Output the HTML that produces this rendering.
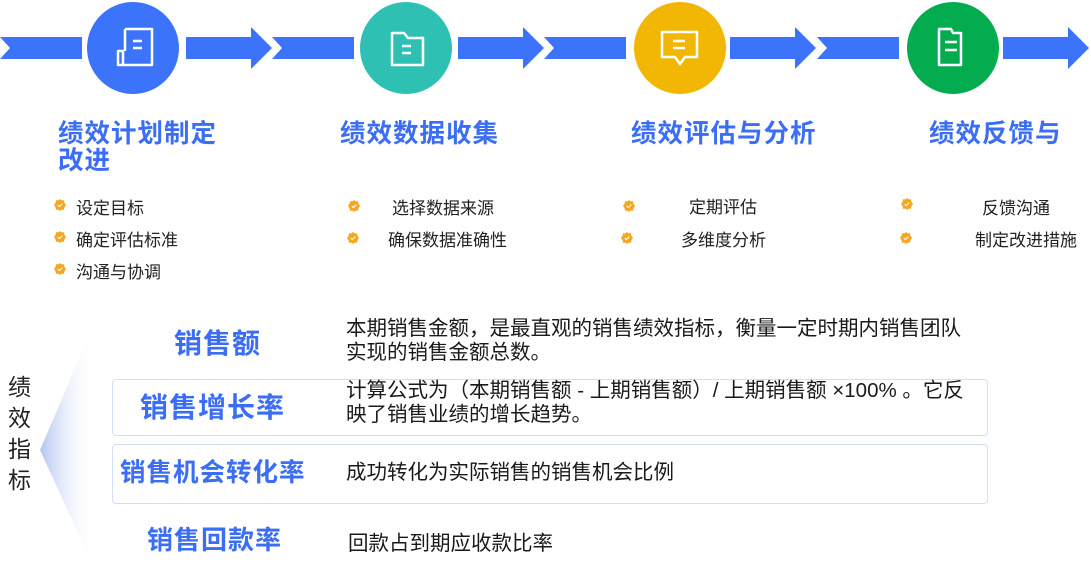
<!DOCTYPE html>
<html><head><meta charset="utf-8"><style>
html,body{margin:0;padding:0;background:#fff;}
body{width:1091px;height:583px;position:relative;overflow:hidden;font-family:"Liberation Sans","Noto Sans CJK SC",sans-serif;}
.a{position:absolute;white-space:nowrap;}
.t{color:#3b6ef5;font-size:25.5px;font-weight:bold;letter-spacing:1px;line-height:27px;}
.b{color:#222;font-size:17px;}
.m{color:#3b6ef5;font-weight:bold;letter-spacing:1px;}
.d{color:#1a1a1a;font-size:20.5px;line-height:24px;}
.box{position:absolute;left:112px;width:874px;border:1.5px solid #d3def8;border-radius:4px;}
</style></head><body>
<svg class="a" style="left:0;top:0" width="1091" height="300">
<defs>
<g id="seg"><polygon points="0,37 82,37 82,59 0,59 10,48" fill="#3b74fb"/><polygon points="186,37 251,37 251,27 272,48 251,69 251,59 186,59" fill="#3b74fb"/></g>
<symbol id="ck" viewBox="0 0 12 12"><polygon points="6,0 7.6,1.4 10,1.2 10.4,3.6 12,6 10.4,8.4 10,10.8 7.6,10.6 6,12 4.4,10.6 2,10.8 1.6,8.4 0,6 1.6,3.6 2,1.2 4.4,1.4" fill="#f5a623"/><polyline points="3.8,6.2 5.4,7.6 8.2,4.6" fill="none" stroke="#fff" stroke-width="1.2"/></symbol>
</defs>
<use href="#seg" x="0"/><use href="#seg" x="272"/><use href="#seg" x="544"/><use href="#seg" x="817"/>
<circle cx="133" cy="48" r="46" fill="#3b74fb"/>
<circle cx="406" cy="48" r="46" fill="#2ec1b3"/>
<circle cx="680" cy="48" r="46" fill="#f2b705"/>
<circle cx="953" cy="48" r="46" fill="#03ad4f"/>
<g fill="none" stroke="#fff" stroke-width="2.5" stroke-linejoin="round">
<path d="M125,29h27v36h-29v-14h-5v14h5M125,29v22"/><path d="M133,41h9M133,48h9"/>
<path d="M392,33h12l4,5h15v27h-31z"/><path d="M402,46h9M402,53h9"/>
<path d="M662,32h35v25h-12l-5,7l-5,-7h-13z"/><path d="M673,41h12M673,48h12"/>
<path d="M939,29h12l2,4h8v32h-22z"/><path d="M945,42h12M945,50h12"/>
</g>
<use href="#ck" x="54" y="199" width="12" height="12"/><use href="#ck" x="54" y="231" width="12" height="12"/><use href="#ck" x="54" y="263" width="12" height="12"/>
<use href="#ck" x="348" y="200" width="12" height="12"/><use href="#ck" x="347" y="232" width="12" height="12"/>
<use href="#ck" x="623" y="200" width="12" height="12"/><use href="#ck" x="621" y="232" width="12" height="12"/>
<use href="#ck" x="901" y="198" width="12" height="12"/><use href="#ck" x="900" y="232" width="12" height="12"/>
</svg>
<svg class="a" style="left:0;top:300px" width="120" height="283"><defs><linearGradient id="g2" x1="0" y1="0" x2="1" y2="0"><stop offset="0" stop-color="#b3c4f0"/><stop offset="1" stop-color="#fff" stop-opacity="0"/></linearGradient></defs><polygon points="40,150 95,22 95,270" fill="url(#g2)"/></svg>
<div class="a t" style="left:58px;top:121px">绩效计划制定<br>改进</div>
<div class="a t" style="left:340px;top:121px">绩效数据收集</div>
<div class="a t" style="left:631px;top:121px">绩效评估与分析</div>
<div class="a t" style="left:929px;top:121px">绩效反馈与</div>
<div class="a b" style="left:76px;top:194px">设定目标</div>
<div class="a b" style="left:76px;top:226px">确定评估标准</div>
<div class="a b" style="left:76px;top:258px">沟通与协调</div>
<div class="a b" style="left:392px;top:194px">选择数据来源</div>
<div class="a b" style="left:388px;top:226px">确保数据准确性</div>
<div class="a b" style="left:689px;top:193px">定期评估</div>
<div class="a b" style="left:681px;top:226px">多维度分析</div>
<div class="a b" style="left:982px;top:194px">反馈沟通</div>
<div class="a b" style="left:975px;top:226px">制定改进措施</div>
<div class="a" style="left:8px;top:372px;font-size:23px;line-height:31px;color:#222;white-space:normal;width:26px">绩效指标</div>
<div class="box" style="top:379px;height:55px"></div>
<div class="box" style="top:444px;height:58px"></div>
<div class="a m" style="left:174px;top:322px;font-size:28px">销售额</div>
<div class="a m" style="left:140px;top:386px;font-size:28px">销售增长率</div>
<div class="a m" style="left:120px;top:452px;font-size:25.5px">销售机会转化率</div>
<div class="a m" style="left:147px;top:520px;font-size:26px">销售回款率</div>
<div class="a d" style="left:346px;top:317px">本期销售金额，是最直观的销售绩效指标，衡量一定时期内销售团队<br>实现的销售金额总数。</div>
<div class="a d" style="left:346px;top:379px">计算公式为（本期销售额 - 上期销售额）/ 上期销售额 ×100% 。它反<br>映了销售业绩的增长趋势。</div>
<div class="a d" style="left:346px;top:461px">成功转化为实际销售的销售机会比例</div>
<div class="a d" style="left:348px;top:532px">回款占到期应收款比率</div>
</body></html>
